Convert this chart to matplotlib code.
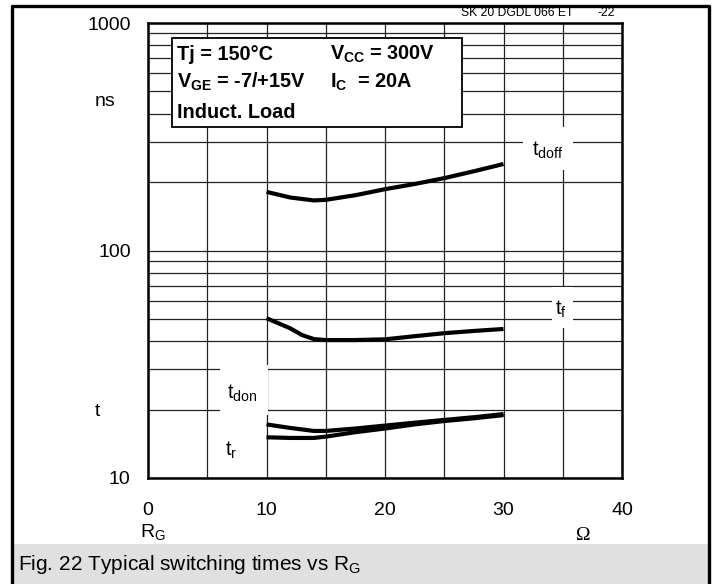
import matplotlib
matplotlib.use("Agg")
import matplotlib.pyplot as plt
from matplotlib.patches import Rectangle
from matplotlib.ticker import LogLocator, MultipleLocator, FixedLocator, NullFormatter

plt.rcParams['font.family'] = ['Liberation Sans', 'DejaVu Sans']
plt.rcParams['mathtext.fontset'] = 'custom'
plt.rcParams['mathtext.rm'] = 'Liberation Sans'
plt.rcParams['mathtext.it'] = 'Liberation Sans:italic'
plt.rcParams['mathtext.bf'] = 'Liberation Sans:bold'

# ---- data ----
rg_doff = [10, 12, 14, 15, 17.5, 20, 22.5, 25, 27.5, 30]
t_doff = [181, 171, 166, 167, 175, 186, 196, 208, 223, 240]

rg_f = [10, 11, 12, 13, 14, 15, 17.5, 20, 22.5, 25, 27.5, 30]
t_f = [50.4, 47.9, 45.5, 42.5, 40.8, 40.4, 40.4, 40.7, 42.0, 43.3, 44.3, 45.2]

rg_don = [10, 12, 14, 15, 17.5, 20, 22.5, 25, 27.5, 30]
t_don = [17.2, 16.6, 16.1, 16.1, 16.5, 17.0, 17.5, 18.0, 18.5, 19.1]

rg_r = [10, 12, 14, 15, 17.5, 20, 22.5, 25, 27.5, 30]
t_r = [15.1, 15.0, 15.0, 15.2, 15.9, 16.5, 17.2, 17.8, 18.3, 18.9]

x_ticks = [0, 10, 20, 30, 40]
y_ticks = [10, 100, 1000]
y_tick_labels = ["10", "100", "1000"]

W, H = 717, 584
fig = plt.figure(figsize=(W / 100, H / 100), dpi=100)

def fx(px):
    return px / W

def fy(py):
    return 1 - py / H

# caption background
fig.patches.append(Rectangle((fx(13), 0), fx(708) - fx(13), fy(544), transform=fig.transFigure,
                             facecolor='#e0e0e0', edgecolor='none', zorder=0))
# outer frame (left, top, right)
fig.lines.append(plt.Line2D([fx(11.5), fx(11.5), fx(709), fx(709)], [0, fy(5.5), fy(5.5), 0],
                            transform=fig.transFigure, color='black', lw=2.4, zorder=5))

ax = fig.add_axes([fx(148), fy(478), fx(622) - fx(148), fy(23) - fy(478)])
ax.set_xlim(0, 40)
ax.set_yscale('log')
ax.set_ylim(10, 1000)

ax.xaxis.set_major_locator(FixedLocator(x_ticks))
ax.xaxis.set_minor_locator(MultipleLocator(5))
ax.yaxis.set_major_locator(FixedLocator(y_ticks))
ax.set_yticklabels(y_tick_labels)
ax.yaxis.set_minor_locator(LogLocator(base=10, subs=[2, 3, 4, 5, 6, 7, 8, 9]))
ax.yaxis.set_minor_formatter(NullFormatter())
ax.tick_params(which='both', length=0)
ax.tick_params(axis='y', pad=12.5, labelsize=14)
ax.tick_params(axis='x', pad=17.5, labelsize=14)
ax.grid(True, which='both', color='#222222', lw=0.9, zorder=1)
ax.set_axisbelow(True)
for s in ax.spines.values():
    s.set_linewidth(1.8)
    s.set_zorder(6)

# curves
for xs, ys in [(rg_doff, t_doff), (rg_f, t_f), (rg_don, t_don), (rg_r, t_r)]:
    ax.plot(xs, ys, color='black', lw=3.0, solid_capstyle='butt', solid_joinstyle='round', zorder=4)

# white gaps behind curve labels (pixel -> axes fraction)
def axx(px):
    return (px - 148) / 474

def axy(py):
    return (478 - py) / 455

for (x0, x1, y0, y1) in [(523, 573, 127, 170), (552, 573, 287, 328), (220, 268, 365, 415)]:
    ax.add_patch(Rectangle((axx(x0), axy(y1)), axx(x1) - axx(x0), axy(y0) - axy(y1),
                           transform=ax.transAxes, facecolor='white', edgecolor='none', zorder=2))

ax.text(axx(548), axy(150), r't$_{\mathrm{doff}}$', transform=ax.transAxes, fontsize=14.5,
        ha='center', va='center', zorder=3)
ax.text(axx(561), axy(309), r't$_{\mathrm{f}}$', transform=ax.transAxes, fontsize=14.5,
        ha='center', va='center', zorder=3)
ax.text(axx(242), axy(393), r't$_{\mathrm{don}}$', transform=ax.transAxes, fontsize=14.5,
        ha='center', va='center', zorder=3)
ax.text(axx(231), axy(450), r't$_{\mathrm{r}}$', transform=ax.transAxes, fontsize=14.5,
        ha='center', va='center', zorder=3)

# parameter box
ax.add_patch(Rectangle((axx(172), axy(127)), axx(462) - axx(172), axy(38) - axy(127),
                       transform=ax.transAxes, facecolor='white', edgecolor='black', lw=1.3, zorder=5))
bx1, bx2 = axx(177), axx(330)
kw = dict(transform=ax.transAxes, fontsize=14.3, fontweight='bold', ha='left', va='baseline', zorder=6)
ax.text(bx1, axy(60), 'Tj = 150°C', **kw)
ax.text(bx2, axy(60), r'V$_{\mathbf{CC}}$ = 300V', **kw)
ax.text(bx1, axy(88), r'V$_{\mathbf{GE}}$ = -7/+15V', **kw)
ax.text(bx2, axy(88), r'I$_{\mathbf{C}}$  = 20A', **kw)
ax.text(bx1, axy(118), 'Induct. Load', **kw)

# axis annotations
fig.text(fx(105), fy(101), 'ns', fontsize=14, ha='center', va='center')
fig.text(fx(97), fy(412), 't', fontsize=14, ha='center', va='center')
fig.text(fx(153), fy(532), r'R$_{\mathrm{G}}$', fontsize=14, ha='center', va='center')
fig.text(fx(583), fy(535), 'Ω', fontsize=14, ha='center', va='center', family=['Liberation Serif', 'DejaVu Serif'])
fig.text(fx(461), fy(13), 'SK 20 DGDL 066 ET', fontsize=8.7, ha='left', va='center')
fig.text(fx(615), fy(13), '-22', fontsize=8.7, ha='right', va='center')
fig.text(fx(18), fy(564), r'Fig. 22 Typical switching times vs R$_{\mathrm{G}}$', fontsize=15,
         ha='left', va='center')

fig.savefig('out.png', dpi=100)
